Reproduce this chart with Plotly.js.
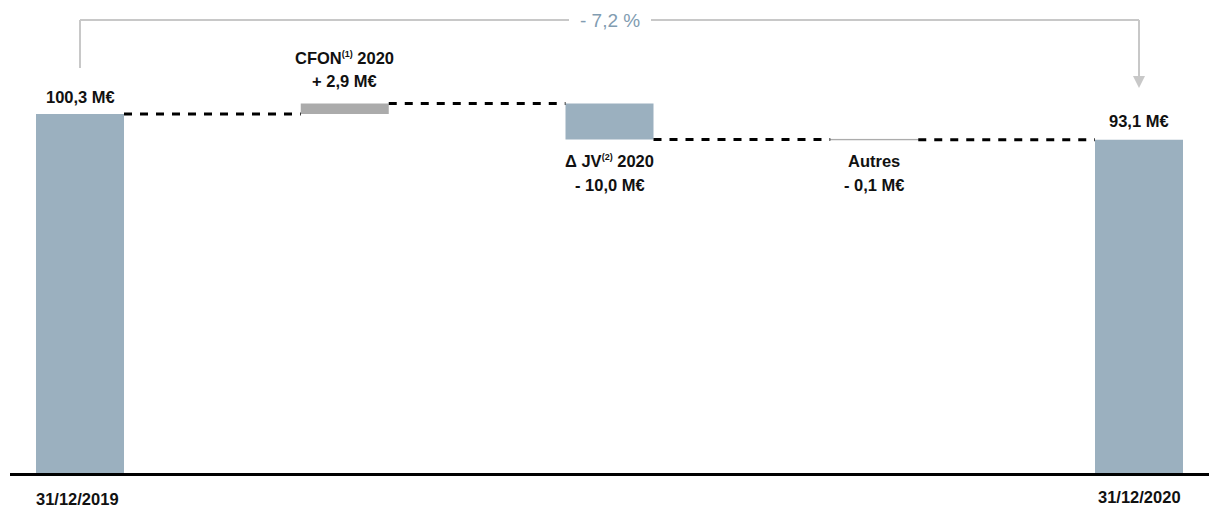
<!DOCTYPE html>
<html>
<head>
<meta charset="utf-8">
<script src="https://cdn.plot.ly/plotly-3.0.1.min.js"></script>
<style>html,body{margin:0;padding:0;background:#fff;}#chart{width:1209px;height:510px;}</style>
</head>
<body>
<div id="chart"></div>
<script>
// ---- data ----
const categories = ['31/12/2019', 'CFON 2020', 'Δ JV 2020', 'Autres', '31/12/2020'];
const measures = ['absolute', 'relative', 'relative', 'relative', 'total'];
const values = [100.3, 2.9, -10.0, -0.1, 93.1];
const valueLabels = ['100,3 M€', '+ 2,9 M€', '- 10,0 M€', '- 0,1 M€', '93,1 M€'];
const stepNames = ['', 'CFON', 'Δ JV', 'Autres', ''];
const stepNotes = ['', '(1)', '(2)', '', ''];
const stepYears = ['', '2020', '2020', '', ''];
const dateLabels = ['31/12/2019', '31/12/2020'];
const changeLabel = '- 7,2 %';

// ---- styles ----
const BLUE = '#9bb0bf', GREY = '#ababab';
const barColors = [BLUE, GREY, BLUE, GREY, BLUE];
const FONT = '"Liberation Sans", Arial, sans-serif';

// ---- geometry helpers (layout) ----
const W = 1209, H = 510, ML = 10, MR = 0, MT = 10, MB = 37;
const XR = [-0.2644, 4.2644];
const pxPerX = (W - ML - MR) / (XR[1] - XR[0]);
const X = px => XR[0] + (px - ML) / pxPerX;
const plotH = H - MT - MB;
const baseY = H - MB;
const pxPerY = 359 / 100.3;
const YR = [0, plotH / pxPerY];
const Yd = px => (baseY - px) / pxPerY;       // data coords
const Yp = px => (baseY - px) / plotH;        // paper coords

// ---- compute waterfall bases ----
const xs = categories.map((c, i) => i);
const bases = [], heights = [], levels = [];
let cum = 0;
values.forEach((v, i) => {
  if (measures[i] === 'absolute') { bases.push(0); heights.push(v); cum = v; }
  else if (measures[i] === 'total') { bases.push(0); heights.push(cum); }
  else { bases.push(v >= 0 ? cum : cum + v); heights.push(Math.abs(v)); cum += v; }
  levels.push(cum);
});

const BW = 88 / pxPerX;

const trace = {
  type: 'bar',
  x: xs,
  y: heights,
  base: bases,
  width: BW,
  marker: {
    color: barColors,
    line: { color: barColors, width: values.map(v => Math.abs(v) < 0.5 ? 1 : 0) }
  },
  hoverinfo: 'skip'
};

const shapes = [];
// dashed connectors
for (let i = 0; i < xs.length - 1; i++) {
  shapes.push({
    type: 'line', xref: 'x', yref: 'y',
    x0: xs[i] + BW / 2, x1: xs[i + 1] - BW / 2,
    y0: levels[i], y1: levels[i],
    line: { color: '#000', width: 3, dash: '8px,8px' }
  });
}
// bracket
const BR = '#c8c8c8';
const topY = Yd(20);
shapes.push({ type: 'line', xref: 'x', yref: 'y', x0: 0, x1: 0, y0: Yd(68), y1: topY, line: { color: BR, width: 2 } });
shapes.push({ type: 'line', xref: 'x', yref: 'y', x0: 0, x1: X(569), y0: topY, y1: topY, line: { color: BR, width: 2 } });
shapes.push({ type: 'line', xref: 'x', yref: 'y', x0: X(651), x1: 4, y0: topY, y1: topY, line: { color: BR, width: 2 } });
shapes.push({ type: 'line', xref: 'x', yref: 'y', x0: 4, x1: 4, y0: topY, y1: Yd(78), line: { color: BR, width: 2 } });
shapes.push({
  type: 'path', xref: 'x', yref: 'y',
  path: `M ${X(1133)} ${Yd(76)} L ${X(1145)} ${Yd(76)} L 4 ${Yd(88)} Z`,
  fillcolor: BR, line: { color: BR, width: 0 }
});

const LBL = { family: FONT, size: 16.5, color: '#111', weight: 'bold' };
const ann = (x, ypx, text, opts = {}) => Object.assign({
  x: x, xref: 'x', y: Yp(ypx), yref: 'paper', text: text, showarrow: false,
  xanchor: 'center', yanchor: 'middle', font: LBL
}, opts);
const stepText = i => stepNames[i] +
  (stepNotes[i] ? '<sup><span style="font-size:9px">' + stepNotes[i] + '</span></sup>' : '') +
  (stepYears[i] ? ' ' + stepYears[i] : '');

const annotations = [
  ann(0, 97, valueLabels[0]),
  ann(1, 58, stepText(1)),
  ann(1, 81, valueLabels[1]),
  ann(2, 161, stepText(2)),
  ann(2, 185, valueLabels[2]),
  ann(3, 161, stepText(3)),
  ann(3, 185, valueLabels[3]),
  ann(4, 121, valueLabels[4]),
  ann(X(77.5), 499, dateLabels[0], { borderpad: 0 }),
  ann(4, 497, dateLabels[1], { borderpad: 0 }),
  ann(2, 20, changeLabel, { font: { family: FONT, size: 19, color: '#819cb1' } })
];

const layout = {
  width: W, height: H,
  margin: { l: ML, r: MR, t: MT, b: MB, pad: 0 },
  paper_bgcolor: '#fff', plot_bgcolor: '#fff',
  showlegend: false,
  xaxis: { range: XR, showgrid: false, zeroline: false, showticklabels: false, ticks: '',
           showline: true, linecolor: '#000', linewidth: 3, fixedrange: true },
  yaxis: { range: YR, showgrid: false, zeroline: false, showticklabels: false, ticks: '',
           showline: false, fixedrange: true },
  shapes: shapes,
  annotations: annotations,
  bargap: 0
};

Plotly.newPlot('chart', [trace], layout, { staticPlot: true, displayModeBar: false });
</script>
</body>
</html>
